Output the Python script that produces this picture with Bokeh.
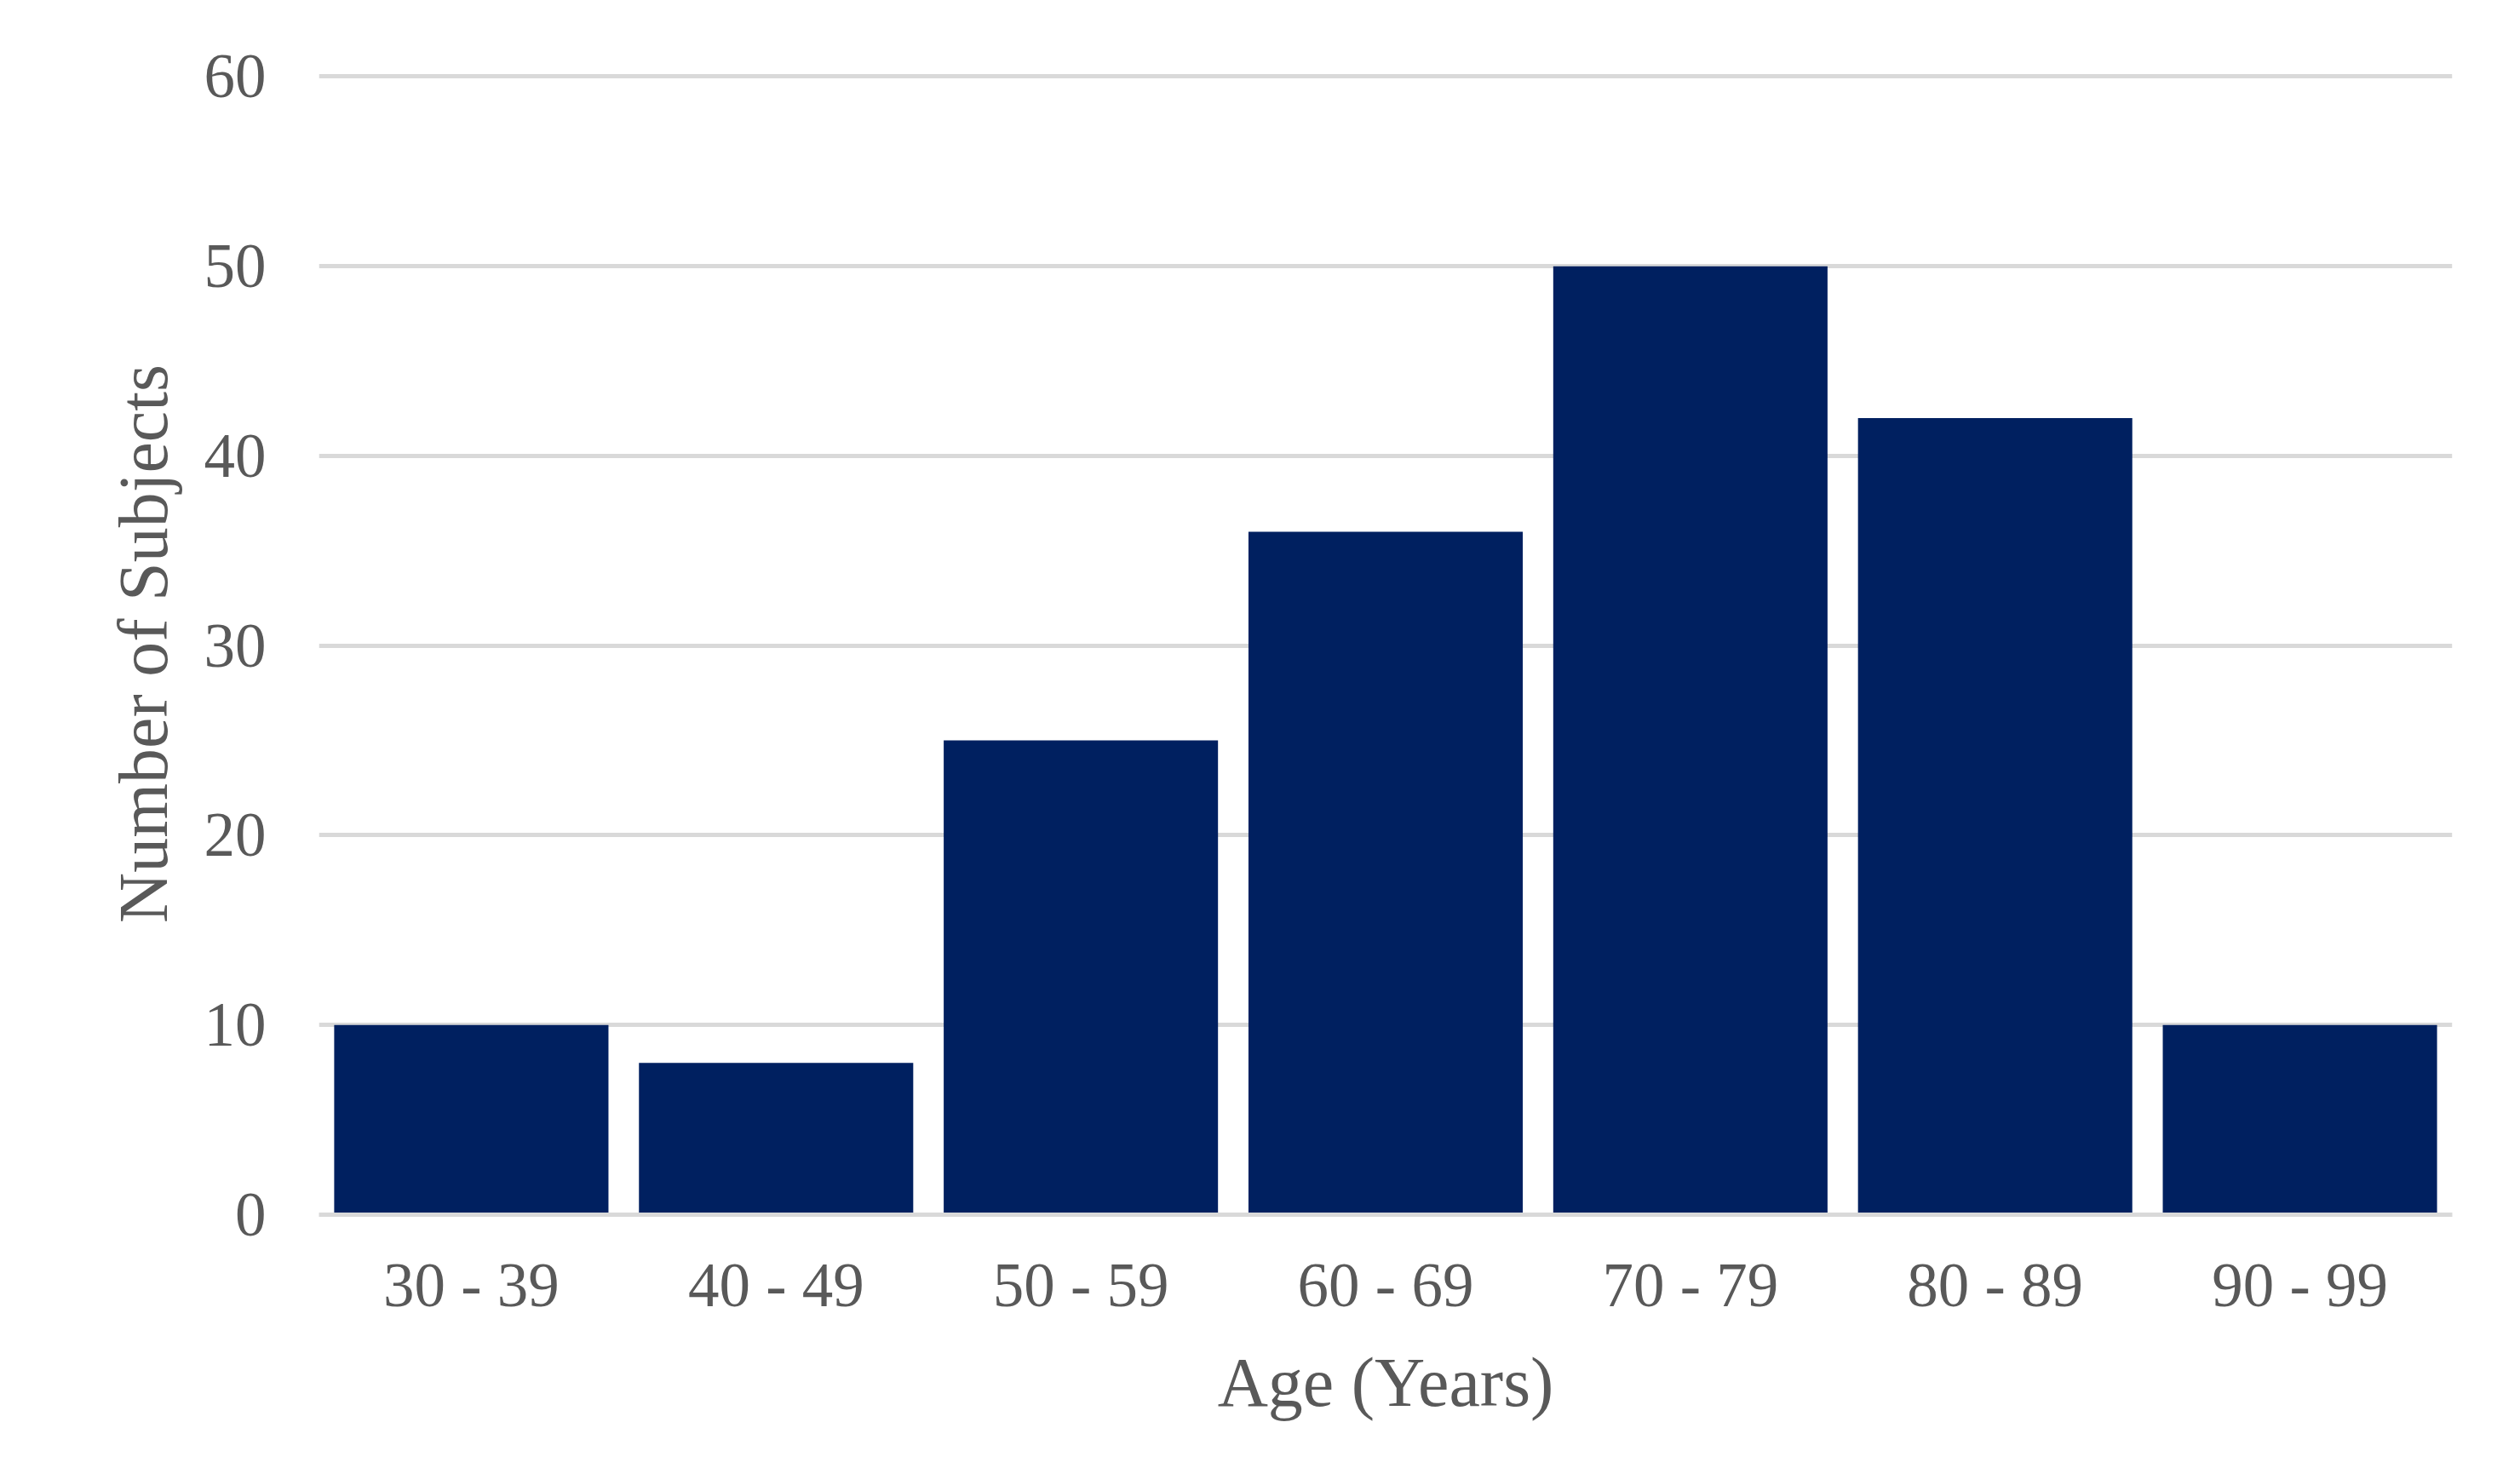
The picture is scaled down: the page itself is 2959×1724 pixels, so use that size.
from bokeh.plotting import figure
from bokeh.models import FactorRange, Range1d
from bokeh.embed import file_html
from bokeh.resources import INLINE

categories = ["30 - 39", "40 - 49", "50 - 59", "60 - 69", "70 - 79", "80 - 89", "90 - 99"]
counts = [10, 8, 25, 36, 50, 42, 10]
y_ticks = [0, 10, 20, 30, 40, 50, 60]

W, H = 2940, 1700
frame_left, frame_right, frame_top, frame_bottom = 374, 2879, 85, 1426

p = figure(
    width=W, height=H,
    x_range=FactorRange(factors=categories, range_padding=0),
    y_range=Range1d(0, 60.2),
    output_backend="svg", toolbar_location=None,
    min_border_left=frame_left, min_border_right=W - frame_right,
    min_border_top=frame_top, min_border_bottom=H - frame_bottom,
)
p.outline_line_color = None
p.background_fill_color = "white"
p.border_fill_color = "white"

p.vbar(x=categories, top=counts, width=0.9, fill_color="#002060", line_color=None)

font = "Liberation Serif"
text_color = "#595959"

p.xgrid.grid_line_color = None
p.ygrid.grid_line_color = "#D9D9D9"
p.ygrid.grid_line_width = 5
p.ygrid.ticker = y_ticks

p.yaxis.ticker = y_ticks
p.yaxis.axis_line_color = None
p.yaxis.major_tick_line_color = None
p.yaxis.minor_tick_line_color = None
p.yaxis.major_label_standoff = 56
p.yaxis.axis_label = "Number of Subjects"
p.yaxis.axis_label_standoff = 23

p.xaxis.axis_line_color = "#D9D9D9"
p.xaxis.axis_line_width = 5
p.xaxis.major_tick_line_color = None
p.xaxis.minor_tick_line_color = None
p.xaxis.major_label_standoff = 36
p.xaxis.axis_label = "Age (Years)"
p.xaxis.axis_label_standoff = 25

for ax in (p.xaxis[0], p.yaxis[0]):
    ax.major_label_text_font = font
    ax.major_label_text_font_size = "73px"
    ax.major_label_text_color = text_color
    ax.axis_label_text_font = font
    ax.axis_label_text_font_size = "82px"
    ax.axis_label_text_font_style = "normal"
    ax.axis_label_text_color = text_color

open("out.html", "w").write(file_html(p, INLINE))
